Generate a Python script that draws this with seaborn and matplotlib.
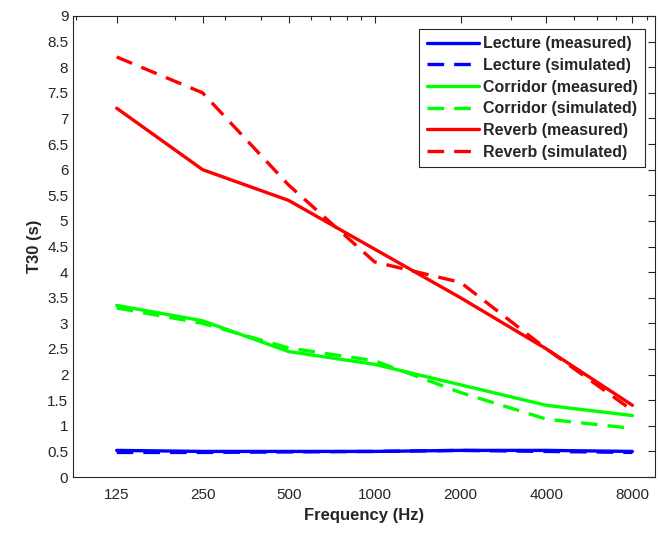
import numpy as np
import pandas as pd
import matplotlib
matplotlib.use("Agg")
import matplotlib.pyplot as plt
import seaborn as sns
from matplotlib.ticker import FixedLocator, NullFormatter, LogLocator
from matplotlib.lines import Line2D

freqs = [125, 250, 500, 1000, 2000, 4000, 8000]
freq_labels = ["125", "250", "500", "1000", "2000", "4000", "8000"]

lecture_measured = [0.52, 0.50, 0.50, 0.50, 0.52, 0.52, 0.50]
lecture_simulated = [0.48, 0.48, 0.49, 0.50, 0.52, 0.50, 0.48]
corridor_measured = [3.35, 3.05, 2.45, 2.20, 1.80, 1.40, 1.20]
corridor_simulated = [3.30, 3.00, 2.52, 2.27, 1.65, 1.13, 0.95]
reverb_measured = [7.20, 6.00, 5.40, 4.45, 3.50, 2.50, 1.40]
reverb_simulated = [8.20, 7.50, 5.70, 4.20, 3.80, 2.50, 1.30]

series_names = ["Lecture (measured)", "Lecture (simulated)",
                "Corridor (measured)", "Corridor (simulated)",
                "Reverb (measured)", "Reverb (simulated)"]
series_values = [lecture_measured, lecture_simulated, corridor_measured,
                 corridor_simulated, reverb_measured, reverb_simulated]
colors = ["#0000ff", "#0000ff", "#00ff00", "#00ff00", "#ff0000", "#ff0000"]
dash_styles = ["", (5, 3), "", (5, 3), "", (5, 3)]

rows = []
for name, vals in zip(series_names, series_values):
    for f, v in zip(freqs, vals):
        rows.append({"freq": f, "T30": v, "series": name})
df = pd.DataFrame(rows)

sns.set_style("white")
plt.rcParams["font.family"] = ["Liberation Sans", "DejaVu Sans"]

fig = plt.figure(figsize=(6.59, 5.33), dpi=100)
ax = fig.add_axes([0.111, 0.105, 0.883, 0.865])

sns.lineplot(data=df, x="freq", y="T30", hue="series", style="series",
             hue_order=series_names, style_order=series_names,
             palette=dict(zip(series_names, colors)),
             dashes=dict(zip(series_names, dash_styles)),
             linewidth=2.4, ax=ax, legend=False)

ax.set_xscale("log")
ax.set_xlim(88, 9600)
ax.set_ylim(0, 9)
ax.xaxis.set_major_locator(FixedLocator(freqs))
ax.set_xticklabels(freq_labels)
ax.xaxis.set_minor_locator(LogLocator(base=10, subs=np.arange(2, 10)))
ax.xaxis.set_minor_formatter(NullFormatter())
yt = np.arange(0, 9.01, 0.5)
ax.set_yticks(yt)
ax.set_yticklabels([("%g" % t) for t in yt])

ax.tick_params(axis="both", which="both", direction="in", top=True, right=True,
               labelsize=11, colors="#262626", width=0.8)
ax.tick_params(axis="both", which="major", length=5)
ax.tick_params(axis="x", which="minor", length=3)
ax.tick_params(axis="x", pad=8)
for s in ax.spines.values():
    s.set_color("#262626")
    s.set_linewidth(0.8)

ax.set_xlabel("Frequency (Hz)", fontsize=12, fontweight="bold", color="#262626")
ax.set_ylabel("T30 (s)", fontsize=12, fontweight="bold", color="#262626")

leg_handles = [Line2D([], [], color=c, lw=2.4, linestyle="-" if d == "" else (0, d))
               for c, d in zip(colors, dash_styles)]
leg = ax.legend(leg_handles, series_names, loc="upper right", frameon=True,
                fancybox=False, edgecolor="#262626", framealpha=1,
                prop={"weight": "bold", "size": 11.5}, handlelength=3.3,
                labelspacing=0.42, borderpad=0.45, handletextpad=0.25,
                bbox_to_anchor=(0.997, 0.989))
leg.get_frame().set_linewidth(0.8)

fig.savefig("out.png", dpi=100, facecolor="white")
